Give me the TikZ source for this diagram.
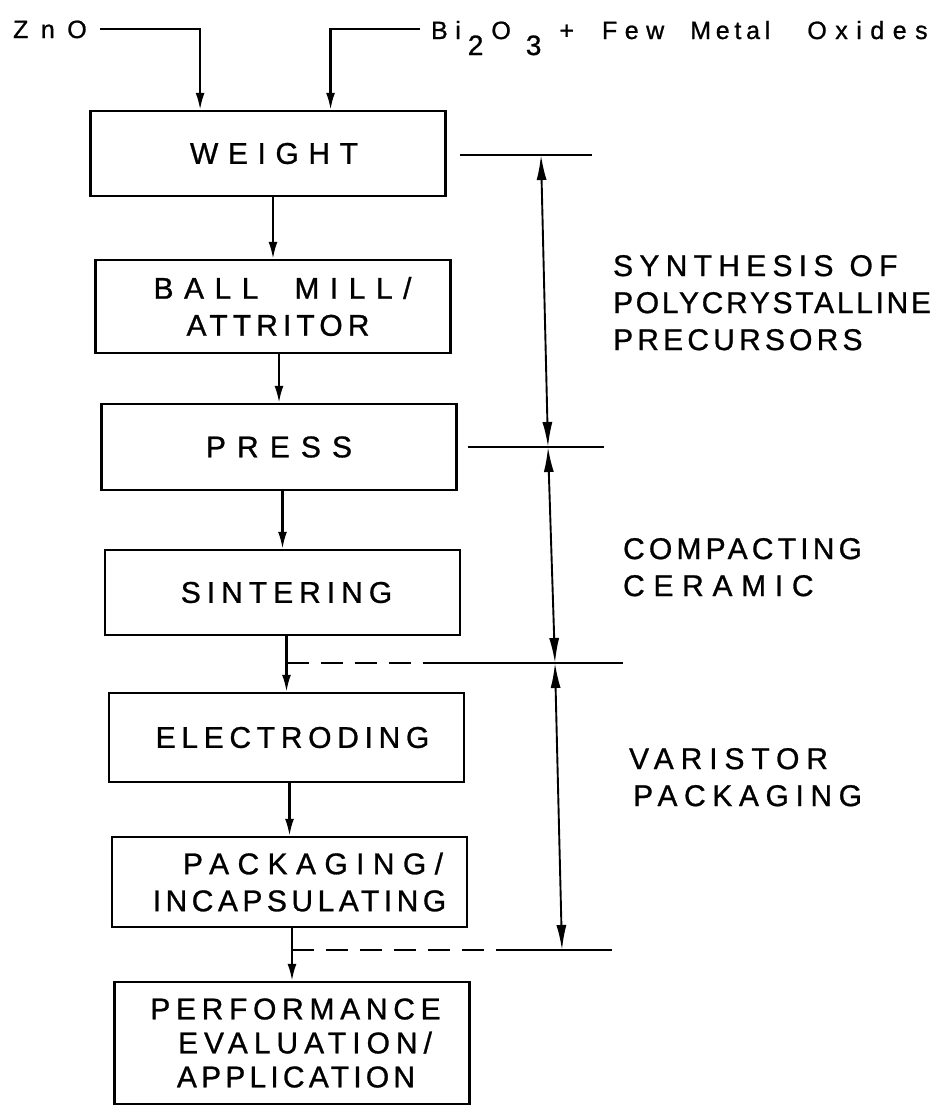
\documentclass[tikz,border=0pt]{standalone}
\usepackage{fontspec}
\setmainfont{Liberation Sans}[FakeBold=0.9]
\usetikzlibrary{arrows.meta, calc, positioning}

\newcommand{\track}[2]{{\addfontfeature{LetterSpace=#1}#2}}

\begin{document}
\begin{tikzpicture}[x=1pt, y=-1pt, >={Latex[length=17pt,width=9pt]}, line width=2.2pt]
        % --- STYLES ---
        \tikzset{
            stage/.style={draw, rectangle, line width=2.4pt, minimum width=355pt, align=center, inner sep=0pt,
                font={\fontsize{30}{37}\selectfont\addfontfeature{LetterSpace=#1}}},
            stage/.default=20,
            feed/.style={font={\fontsize{25}{30}\selectfont\addfontfeature{LetterSpace=#1}}, anchor=base west, inner ysep=0pt},
            phase/.style={anchor=north west, align=left, inner sep=0pt,
                font={\fontsize{30}{37}\selectfont}},
            flow/.style={->},
            dim/.style={<->, >={Latex[length=25pt,width=10pt]}, line width=1.9pt},
            tick/.style={line width=1.8pt},
            gap/.style={line width=1.8pt, dash pattern=on 22pt off 12pt}
        }
        \useasboundingbox (0,0) rectangle (940,1112);

        % --- PROCESS STAGES ---
        \node [stage=32, minimum height=85pt] (weight) at (268,153.5) {\hspace*{12pt}WEIGHT};
        \node [stage, minimum height=93pt] (ballmill) at (273,306.5)
            {\hspace*{19pt}\track{35}{BALL}\hspace{36pt}\track{35}{MILL/}\\\hspace*{10pt}\track{17}{ATTRITOR}};
        \node [stage=37, minimum height=86pt] (press) at (279,447) {PRESS};
        \node [stage=20, minimum height=85pt] (sinter) at (282.5,592.5) {\hspace*{8pt}SINTERING};
        \node [stage=19, minimum height=89pt] (electroding) at (286.5,737.5) {\hspace*{12pt}ELECTRODING};
        \node [stage, minimum height=90pt] (packaging) at (289.5,882)
            {\hspace*{47pt}\track{28}{PACKAGING/}\\\hspace*{20pt}\track{15}{INCAPSULATING}};
        \node [stage, minimum height=122pt, font={\fontsize{30}{34}\selectfont}] (perf) at (292,1043)
            {\hspace*{7pt}\track{19}{PERFORMANCE}\\\hspace*{26pt}\track{20}{EVALUATION/}\\\hspace*{8pt}\track{14}{APPLICATION}};

        % --- RAW MATERIALS ---
        \node [feed=50, inner xsep=12pt] (zno) at (0,38) {ZnO};
        \node [feed=30, inner xsep=10pt] (bi) at (420,39)
            {Bi\hspace{7pt}\raisebox{-16pt}{\fontsize{28}{30}\selectfont 2}\hspace{8pt}O\hspace{15pt}\raisebox{-16pt}{\fontsize{28}{30}\selectfont 3}\hspace{18pt}+\hspace{28pt}Few\hspace{26pt}\track{19}{Metal}\hspace{37pt}\track{34}{Oxides}};

        \draw [flow] (zno.east) -| ($(weight.north west)!0.31!(weight.north east)$);
        \draw [flow] (bi.west |- zno.east) -| ($(weight.north west)!0.675!(weight.north east)$);

        % --- FLOW ---
        \draw [flow] (weight.south -| ballmill.north) -- (ballmill.north);
        \draw [flow] (ballmill.south -| press.north) -- (press.north);
        \draw [flow] (press.south -| sinter.north) -- (sinter.north);
        \draw [flow] (sinter.south -| electroding.north) -- (electroding.north);
        \draw [flow] (electroding.south -| packaging.north) -- (packaging.north);
        \draw [flow] (packaging.south -| perf.north) -- (perf.north);

        % --- PHASE LIMITS ---
        \coordinate (d1) at (541,155);
        \coordinate (d2) at (548,447);
        \coordinate (d3) at (555,663);
        \coordinate (d4) at (562,950);

        \draw [tick] ($(d1)+(-81,0)$) -- ($(d1)+(51,0)$);
        \draw [tick] ($(d2)+(-80,0)$) -- ($(d2)+(56,0)$);
        \draw [gap] (electroding.north |- d3) -- ($(d3)+(-115,0)$);
        \draw [tick] ($(d3)+(-115,0)$) -- ($(d3)+(68,0)$);
        \draw [gap] (perf.north |- d4) -- ($(d4)+(-61,0)$);
        \draw [tick] ($(d4)+(-61,0)$) -- ($(d4)+(50,0)$);

        \draw [dim] (d1) -- (d2);
        \draw [dim] (d2) -- (d3);
        \draw [dim] (d3) -- (d4);

        % --- PHASE NAMES ---
        \node [phase] (synthesis) at (612,254)
            {\track{21}{SYNTHESIS}\hspace{16pt}\track{21}{OF}\\\track{9}{POLYCRYSTALLINE}\\\track{14}{PRECURSORS}};
        \node [phase] (compacting) at (622,537) {\track{14}{COMPACTING}\\\track{29}{CERAMIC}};
        \node [phase] (varistor) at (628,747) {\track{23}{VARISTOR}\\\hspace*{4pt}\track{22}{PACKAGING}};

    \end{tikzpicture}
\end{document}
